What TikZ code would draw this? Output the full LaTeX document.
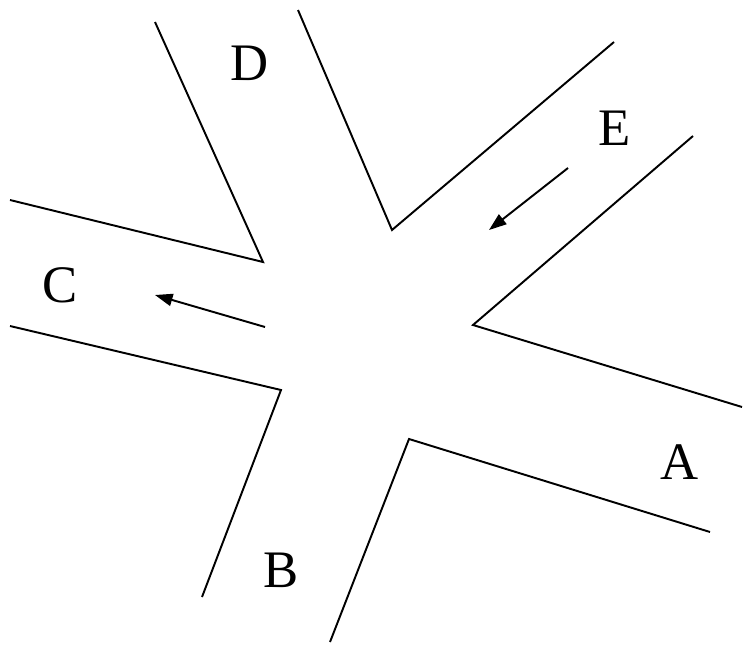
\documentclass[tikz,border=0pt]{standalone}
\usepackage{fontspec}
\setmainfont{Liberation Serif}
\usetikzlibrary{arrows.meta}

\begin{document}
\begin{tikzpicture}[
    x=0.02cm, y=-0.02cm,
    wall/.style={line width=1.1pt, line join=miter},
    flow/.style={line width=1.1pt, -{Triangle[length=10pt, width=7pt]}},
    lbl/.style={font=\fontsize{30}{36}\selectfont, inner sep=0},
]
    \useasboundingbox (0,0) rectangle (743,646);

    % Corners of the junction
    \coordinate (cd) at (263,262);
    \coordinate (de) at (392,230);
    \coordinate (ea) at (473,325);
    \coordinate (ab) at (409,439);
    \coordinate (bc) at (281,390);

    % Far ends of the walls
    \coordinate (c1) at (10,200);
    \coordinate (d1) at (155,22);
    \coordinate (d2) at (298,10);
    \coordinate (e1) at (614,42);
    \coordinate (e2) at (693,136);
    \coordinate (a1) at (742,407);
    \coordinate (a2) at (710,532);
    \coordinate (b1) at (330,642);
    \coordinate (b2) at (202,597);
    \coordinate (c2) at (10,326);

    % Walls
    \draw[wall] (c1) -- (cd) -- (d1);
    \draw[wall] (d2) -- (de) -- (e1);
    \draw[wall] (e2) -- (ea) -- (a1);
    \draw[wall] (a2) -- (ab) -- (b1);
    \draw[wall] (b2) -- (bc) -- (c2);

    % Flow arrows
    \coordinate (ct) at (265,327);
    \coordinate (ch) at (155,295);
    \coordinate (et) at (568,168);
    \coordinate (eh) at (489,230);
    \draw[flow] (ct) -- (ch);
    \draw[flow] (et) -- (eh);

    % Labels
    \node[lbl] (la) at (680,462) {A};
    \node[lbl] (lb) at (281,570) {B};
    \node[lbl] (lc) at (60,285) {C};
    \node[lbl] (ld) at (250,63) {D};
    \node[lbl] (le) at (615,128) {E};
\end{tikzpicture}
\end{document}
